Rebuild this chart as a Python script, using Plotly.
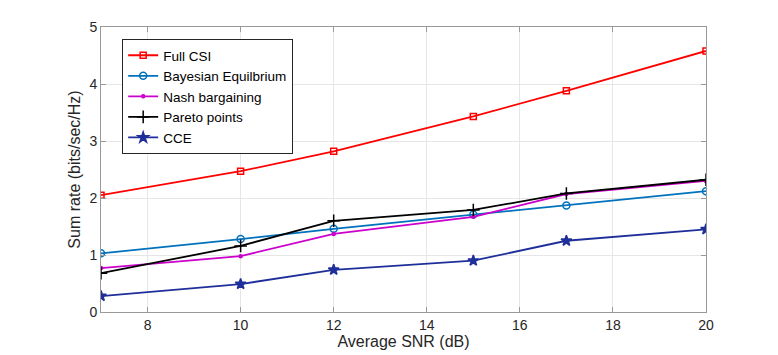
import plotly.graph_objects as go

snr = [7, 10, 12, 15, 17, 20]
full_csi = [2.05, 2.47, 2.82, 3.43, 3.88, 4.58]
bayesian = [1.03, 1.28, 1.46, 1.71, 1.87, 2.12]
nash = [0.77, 0.98, 1.37, 1.67, 2.07, 2.30]
pareto = [0.68, 1.16, 1.60, 1.79, 2.08, 2.32]
cce = [0.28, 0.49, 0.74, 0.90, 1.25, 1.45]

x_ticks = [8, 10, 12, 14, 16, 18, 20]
y_ticks = [0, 1, 2, 3, 4, 5]

series = [
    ("Full CSI", full_csi, "#ff0000", "square-open", 6),
    ("Bayesian Equilbrium", bayesian, "#0072bd", "circle-open", 7),
    ("Nash bargaining", nash, "#cc00cc", "circle", 3),
    ("Pareto points", pareto, "#000000", "cross-thin-open", 9),
    ("CCE", cce, "#1f2f9a", "star", 8),
]

fig = go.Figure()
for name, vals, color, symbol, size in series:
    fig.add_trace(go.Scatter(
        x=snr, y=vals, mode="lines+markers", name=name,
        line=dict(color=color, width=1.8),
        marker=dict(symbol=symbol, size=size, color=color,
                    line=dict(color=color, width=1.5)),
    ))

axis_common = dict(
    showline=True, linecolor="#999999", linewidth=1, mirror="ticks",
    ticks="inside", ticklen=5, tickcolor="#999999",
    showgrid=True, gridcolor="#e6e6e6", gridwidth=1, zeroline=False,
    tickfont=dict(size=14, color="#262626"), automargin=False,
)

# page body has an 8px margin, so the figure is shrunk and shifted to match
fig.update_layout(
    width=770, height=347,
    margin=dict(l=93, r=72, t=19, b=43),
    plot_bgcolor="white", paper_bgcolor="white",
    font=dict(family="Liberation Sans, Arial, sans-serif", color="#262626"),
    xaxis=dict(range=[7, 20], tickvals=x_ticks,
               title=dict(text="Average SNR (dB)", font=dict(size=16), standoff=2),
               **axis_common),
    yaxis=dict(range=[0, 5], tickvals=y_ticks,
               title=dict(text="Sum rate (bits/sec/Hz)", font=dict(size=16), standoff=4),
               **axis_common),
    legend=dict(x=0.035, y=0.958, xanchor="left", yanchor="top",
                bgcolor="white", bordercolor="#262626", borderwidth=1,
                font=dict(size=13.5, color="#000000"), tracegroupgap=0,
                itemwidth=30),
    showlegend=True,
)

fig.write_html("out.html")
